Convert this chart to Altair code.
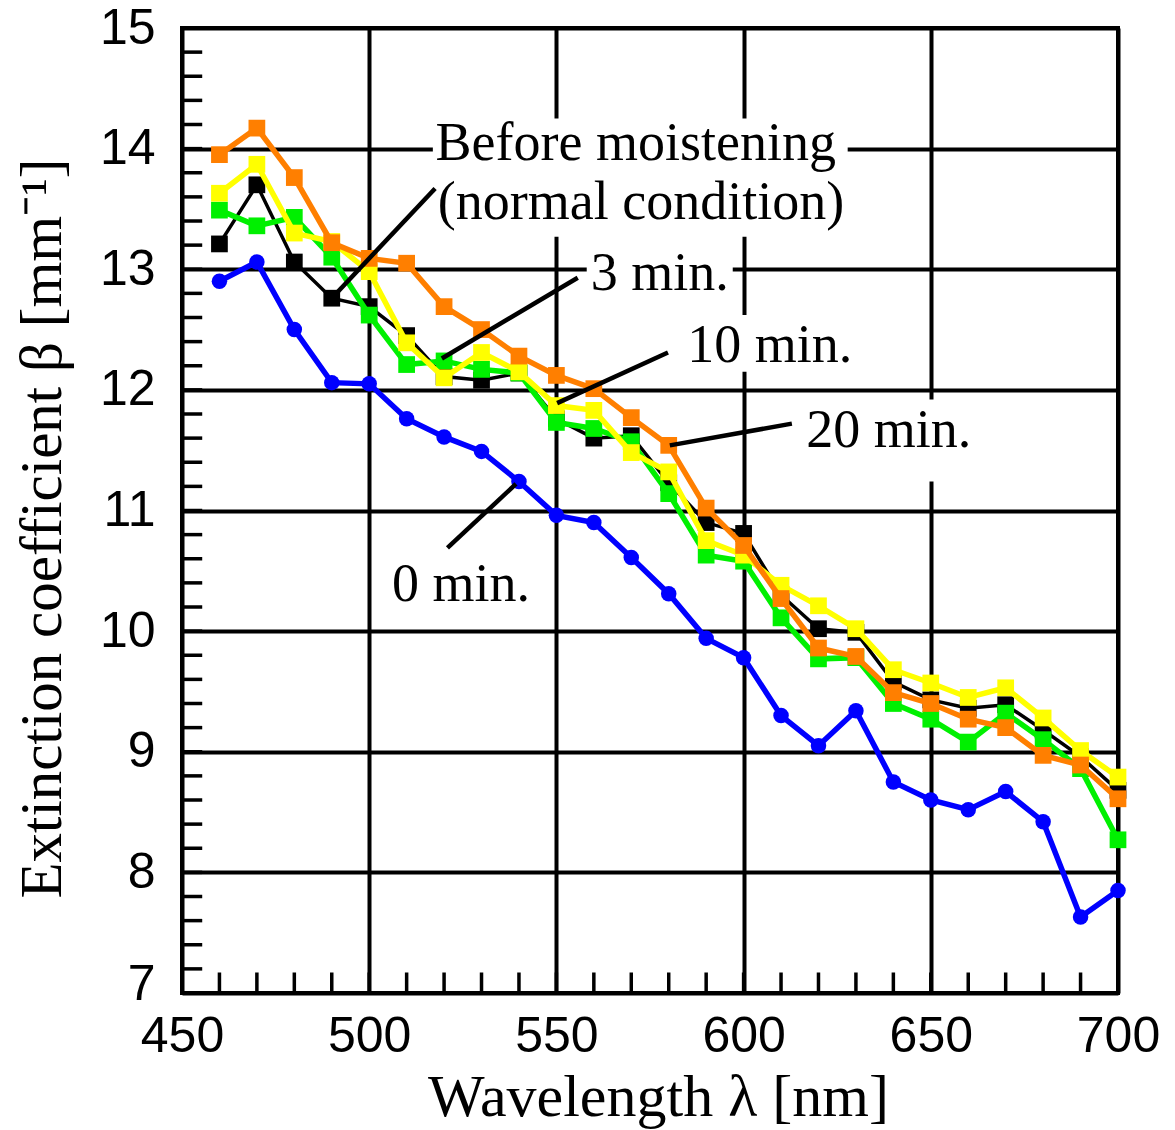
import altair as alt
import pandas as pd

# ---- data ----
wavelength = list(range(460, 701, 10))
beta_before = [13.21, 13.70, 13.06, 12.76, 12.69, 12.45, 12.11, 12.08, 12.14, 11.76, 11.60, 11.62, 11.23,
               10.90, 10.81, 10.30, 10.02, 9.99, 9.58, 9.43, 9.36, 9.39, 9.18, 8.96, 8.68]
beta_0min = [12.90, 13.06, 12.50, 12.06, 12.05, 11.76, 11.61, 11.49, 11.24, 10.96, 10.90, 10.61, 10.31,
             9.94, 9.78, 9.30, 9.05, 9.34, 8.75, 8.60, 8.52, 8.67, 8.42, 7.63, 7.85]
beta_3min = [13.49, 13.36, 13.43, 13.10, 12.62, 12.21, 12.24, 12.17, 12.14, 11.73, 11.68, 11.57, 11.14,
             10.63, 10.58, 10.11, 9.77, 9.78, 9.40, 9.27, 9.08, 9.32, 9.10, 8.86, 8.27]
beta_10min = [13.63, 13.87, 13.30, 13.23, 12.98, 12.39, 12.10, 12.31, 12.15, 11.87, 11.83, 11.48, 11.32,
              10.75, 10.63, 10.38, 10.21, 10.02, 9.68, 9.57, 9.45, 9.53, 9.28, 9.01, 8.79]
beta_20min = [13.95, 14.17, 13.76, 13.22, 13.09, 13.05, 12.69, 12.50, 12.28, 12.12, 12.01, 11.77, 11.54,
              11.02, 10.71, 10.27, 9.86, 9.79, 9.49, 9.40, 9.27, 9.20, 8.97, 8.89, 8.61]

x_tick_values = [450, 500, 550, 600, 650, 700]
y_tick_values = [7, 8, 9, 10, 11, 12, 13, 14, 15]
x_minor = list(range(460, 700, 10))
y_minor = [round(7 + 0.2 * i, 1) for i in range(1, 40)]

# annotations (data coordinates)
ann_text = ["Before moistening", "(normal condition)", "3 min.", "10 min.", "20 min.", "0 min."]
ann_x = [571.2, 572.6, 577.6, 607.0, 638.8, 524.5]
ann_y = [13.905, 13.42, 12.83, 12.23, 11.53, 10.25]

box_x1 = [517.0, 558.1, 583.0, 615.0, 505.0]
box_x2 = [627.8, 597.1, 631.0, 663.0, 545.0]
box_y1 = [14.25, 13.18, 12.62, 11.92, 10.55]
box_y2 = [13.27, 12.76, 12.15, 11.24, 10.07]

lead_x1 = [490.0, 519.4, 550.2, 580.3, 539.2]
lead_y1 = [12.76, 12.26, 11.89, 11.54, 11.22]
lead_x2 = [517.6, 555.7, 579.8, 612.9, 520.9]
lead_y2 = [13.67, 12.93, 12.31, 11.72, 10.69]

series = [
    ("0 min.", beta_0min, "#0000FF", "circle", 5.5, 240),
    ("Before moistening", beta_before, "#000000", "square", 3.5, 280),
    ("3 min.", beta_3min, "#00F000", "square", 5.5, 280),
    ("10 min.", beta_10min, "#FFFF00", "square", 5.5, 280),
    ("20 min.", beta_20min, "#FF7F00", "square", 5.5, 280),
]

X0, X1 = 450, 700
Y0, Y1 = 7, 15
xscale = alt.Scale(domain=[X0, X1], nice=False, zero=False)
yscale = alt.Scale(domain=[Y0, Y1], nice=False, zero=False)

x_axis = alt.Axis(values=x_tick_values, format="d", grid=True, gridColor="black", gridWidth=4,
                  gridOpacity=1, ticks=False, domain=False, labelFont="Liberation Sans",
                  labelFontSize=50, labelColor="black", labelPadding=18, labelFlush=False,
                  labelOverlap=False, title="Wavelength λ [nm]", titleFont="Liberation Serif",
                  titleFontSize=60, titleFontWeight="normal", titleColor="black",
                  titleBaseline="alphabetic", titleX=476, titleY=122)
y_axis = alt.Axis(values=y_tick_values, format="d", grid=True, gridColor="black", gridWidth=4,
                  gridOpacity=1, ticks=False, domain=False, labelFont="Liberation Sans",
                  labelFontSize=50, labelColor="black", labelPadding=27, labelFlush=False,
                  labelOffset={"condition": {"test": "datum.value === 7", "value": -9}, "value": 0},
                  labelOverlap=False, title="Extinction coefficient β [mm⁻¹]",
                  titleFont="Liberation Serif", titleFontSize=59, titleFontWeight="normal",
                  titleColor="black", titleBaseline="alphabetic", titleX=-122, titleY=500)

layers = []

# white boxes behind annotation texts (cover the grid)
box_df = pd.DataFrame({"x1": box_x1, "x2": box_x2, "y1": box_y1, "y2": box_y2})
layers.append(
    alt.Chart(box_df).mark_rect(color="white").encode(
        x=alt.X("x1:Q", scale=xscale, axis=x_axis),
        x2="x2:Q",
        y=alt.Y("y1:Q", scale=yscale, axis=y_axis),
        y2="y2:Q",
    )
)

# minor ticks (inward), lengths expressed in data units (~20 px)
ymin_df = pd.DataFrame({"v": y_minor, "a": [X0] * len(y_minor), "b": [X0 + 5.4] * len(y_minor)})
layers.append(
    alt.Chart(ymin_df).mark_rule(color="black", strokeWidth=3.5).encode(
        y=alt.Y("v:Q", scale=yscale), x=alt.X("a:Q", scale=xscale), x2="b:Q"
    )
)
xmin_df = pd.DataFrame({"v": x_minor, "a": [Y0] * len(x_minor), "b": [Y0 + 0.17] * len(x_minor)})
layers.append(
    alt.Chart(xmin_df).mark_rule(color="black", strokeWidth=3.5).encode(
        x=alt.X("v:Q", scale=xscale), y=alt.Y("a:Q", scale=yscale), y2="b:Q"
    )
)

for name, vals, color, shape, lw, size in series:
    df = pd.DataFrame({"wl": wavelength, "beta": vals})
    base = alt.Chart(df).encode(
        x=alt.X("wl:Q", scale=xscale),
        y=alt.Y("beta:Q", scale=yscale),
    )
    layers.append(base.mark_line(color=color, strokeWidth=lw))
    layers.append(base.mark_point(color=color, shape=shape, filled=True, opacity=1, size=size))

lead_df = pd.DataFrame({"x1": lead_x1, "y1": lead_y1, "x2": lead_x2, "y2": lead_y2})
layers.append(
    alt.Chart(lead_df).mark_rule(color="black", strokeWidth=4.5).encode(
        x=alt.X("x1:Q", scale=xscale), x2="x2:Q",
        y=alt.Y("y1:Q", scale=yscale), y2="y2:Q",
    )
)

ann_df = pd.DataFrame({"x": ann_x, "y": ann_y, "t": ann_text})
layers.append(
    alt.Chart(ann_df).mark_text(font="Liberation Serif", fontSize=54, color="black",
                                align="center", baseline="alphabetic").encode(
        x=alt.X("x:Q", scale=xscale), y=alt.Y("y:Q", scale=yscale), text="t:N"
    )
)

chart = alt.layer(*layers).properties(
    width=936, height=965,
    padding={"left": 182, "top": 28, "right": 57, "bottom": 137},
    autosize=alt.AutoSizeParams(type="none"),
    background="white",
).configure_view(stroke="black", strokeWidth=4)

chart.save("out.html", embed_options={"renderer": "svg", "actions": False})
